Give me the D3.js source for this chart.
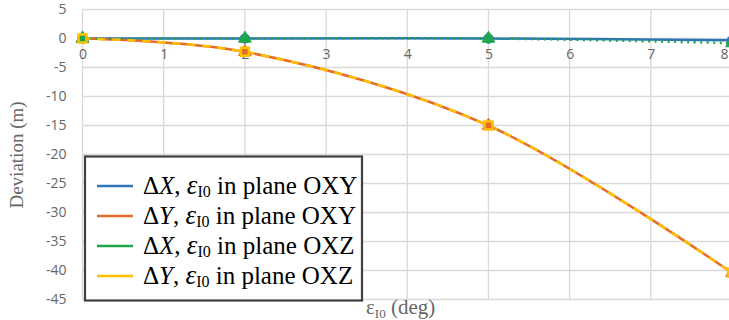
<!DOCTYPE html>
<html>
<head>
<meta charset="utf-8">
<script src="https://cdn.jsdelivr.net/npm/d3@7/dist/d3.min.js"></script>
<style>
  html, body { margin: 0; padding: 0; background: #fff; }
  svg { display: block; }
</style>
</head>
<body>
<svg id="chart" width="729" height="320"></svg>
<script>
// Inclination angle samples (deg)
const epsilon = [0, 2, 5, 8];
// Deviations (m) for each case
const dxOXY = [0, 0, 0, -0.3];
const dyOXY = [0, -2.3, -15, -40.4];
const dxOXZ = [0, 0, 0, -0.8];
const dyOXZ = [0, -2.3, -15, -40.4];
// Axis ticks
const xTicks = [0, 1, 2, 3, 4, 5, 6, 7, 8];
const yTicks = [5, 0, -5, -10, -15, -20, -25, -30, -35, -40, -45];

const svg = d3.select("#chart");
const x = d3.scaleLinear().domain([0, 8]).range([82.5, 732]);
const y = d3.scaleLinear().domain([-45, 5]).range([299.5, 9.5]);

const grid = svg.append("g");
grid.selectAll("line.v").data(xTicks).join("line")
  .attr("x1", d => x(d)).attr("x2", d => x(d))
  .attr("y1", y(5)).attr("y2", y(-45))
  .attr("stroke", "#d9d9d9").attr("stroke-width", 1.3);
grid.selectAll("line.h").data(yTicks).join("line")
  .attr("x1", x(0)).attr("x2", x(8))
  .attr("y1", d => y(d)).attr("y2", d => y(d))
  .attr("stroke", "#d9d9d9").attr("stroke-width", 1.3);

// Y axis labels
const yAxis = d3.axisLeft(y).tickValues(yTicks).tickSize(0).tickPadding(0)
  .tickFormat(d => String(d));
const gy = svg.append("g").attr("transform", `translate(${x(0) - 16},0)`).call(yAxis);
gy.select(".domain").remove();
gy.selectAll("text").attr("font-family", "'Open Sans', sans-serif")
  .attr("font-size", 14).attr("fill", "#666");

// X axis labels sit below the zero line
const xAxis = d3.axisBottom(x).tickValues(xTicks).tickSize(0).tickPadding(0)
  .tickFormat(d3.format("d"));
const gx = svg.append("g").attr("transform", `translate(0,${y(0) + 11})`).call(xAxis);
gx.select(".domain").remove();
gx.selectAll("text").attr("font-family", "'Open Sans', sans-serif")
  .attr("font-size", 14).attr("fill", "#666");
// keep the last label inside the frame
gx.selectAll("text").filter(d => d === 8).attr("text-anchor", "end").attr("dx", 728 - x(8));

const curve = d3.curveCatmullRom.alpha(0.5);
const line = vals => d3.line().x((d, i) => x(epsilon[i])).y(d => y(d)).curve(curve)(vals);

const series = [
  { vals: dxOXY, color: "#2e75b6", dash: null, width: 2.5, marker: d3.symbolCircle },
  { vals: dyOXY, color: "#e46c2a", dash: null, width: 2.5, marker: d3.symbolTriangle },
  { vals: dxOXZ, color: "#1fa84a", dash: "2,4.5", width: 2.5, marker: d3.symbolTriangle },
  { vals: dyOXZ, color: "#ffc000", dash: "8,7", width: 2.5, marker: d3.symbolSquare }
];

series.forEach(s => {
  svg.append("path").attr("d", line(s.vals))
    .attr("fill", "none").attr("stroke", s.color).attr("stroke-width", s.width)
    .attr("stroke-dasharray", s.dash);
});
series.forEach((s, k) => {
  svg.append("g").selectAll("path").data(s.vals).join("path")
    .attr("transform", (d, i) => `translate(${x(epsilon[i])},${y(d)})`)
    .attr("d", d3.symbol().type(s.marker).size(k === 3 ? 64 : 70))
    .attr("fill", k === 3 ? "none" : s.color)
    .attr("stroke", s.color).attr("stroke-width", k === 3 ? 2.5 : 1);
});

// Axis titles
svg.append("text")
  .attr("transform", `translate(23,155) rotate(-90)`)
  .attr("text-anchor", "middle")
  .attr("font-family", "'Liberation Serif', serif").attr("font-size", 19)
  .attr("fill", "#666").text("Deviation (m)");

const xt = svg.append("text").attr("x", 366).attr("y", 314)
  .attr("font-family", "'Liberation Serif', serif").attr("font-size", 21).attr("fill", "#666");
xt.append("tspan").text("ε");
xt.append("tspan").attr("font-size", 13).attr("dy", 4).text("I0");
xt.append("tspan").attr("dy", -4).text(" (deg)");

// Legend
const legendItems = [
  { sym: "X", plane: "OXY", color: "#2e75b6" },
  { sym: "Y", plane: "OXY", color: "#e46c2a" },
  { sym: "X", plane: "OXZ", color: "#1fa84a" },
  { sym: "Y", plane: "OXZ", color: "#ffc000" }
];
const lg = svg.append("g");
lg.append("rect").attr("x", 85).attr("y", 156.5).attr("width", 277).attr("height", 144)
  .attr("fill", "#fff").attr("stroke", "#404040").attr("stroke-width", 2.2);
legendItems.forEach((d, i) => {
  const cy = 186 + i * 30;
  lg.append("line").attr("x1", 97).attr("x2", 133).attr("y1", cy).attr("y2", cy)
    .attr("stroke", d.color).attr("stroke-width", 2.5);
  const t = lg.append("text").attr("x", 143).attr("y", cy + 8)
    .attr("font-family", "'Liberation Serif', serif").attr("font-size", 25).attr("fill", "#000");
  t.append("tspan").text("Δ");
  t.append("tspan").attr("font-style", "italic").text(d.sym);
  t.append("tspan").text(", ");
  t.append("tspan").attr("font-style", "italic").attr("font-size", 27).text("ε");
  t.append("tspan").attr("font-size", 16).attr("dy", 3).text("I0");
  t.append("tspan").attr("dy", -3).text(" in plane " + d.plane);
});
</script>
</body>
</html>
